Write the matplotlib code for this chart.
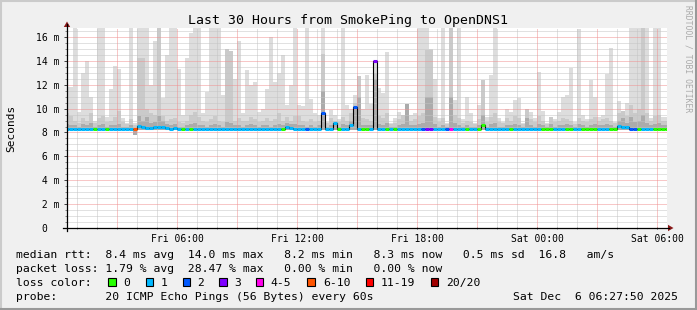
import matplotlib
matplotlib.use('Agg')
import matplotlib.pyplot as plt
from matplotlib.patches import Rectangle, Polygon
from matplotlib.lines import Line2D
import numpy as np

W, H = 697, 310

# ---------------- data ----------------
bin_hours = 0.2            # 12-minute consolidation
first_bin_start = 0.4      # hours after Fri 00:00

smoke_top = [
    11.8, 11.8, 16.8, 9.7, 13.0, 14.0, 11.0, 9.0, 16.8, 16.8,
    9.3, 11.6, 13.6, 13.3, 9.2, 8.8, 16.8, 8.8, 16.8, 16.8,
    16.8, 12.0, 15.7, 16.8, 10.9, 14.5, 16.8, 16.8, 13.3, 9.5,
    14.2, 16.3, 16.8, 16.8, 9.6, 11.4, 16.8, 16.8, 16.8, 11.1,
    15.0, 14.8, 12.5, 15.7, 9.6, 13.2, 12.0, 12.2, 9.75, 10.0,
    11.6, 16.0, 12.2, 13.0, 14.5, 10.3, 12.0, 16.8, 10.3, 10.2,
    16.8, 10.8, 9.6, 9.5, 16.8, 8.9, 9.9, 9.5, 9.1, 16.8,
    10.3, 10.0, 11.1, 12.7, 10.0, 12.8, 10.4, 14.0, 11.7, 11.3,
    14.7, 8.8, 9.2, 9.75, 9.5, 10.4, 9.5, 9.6, 16.8, 16.8,
    16.8, 15.0, 12.5, 9.2, 16.8, 8.8, 16.8, 10.7, 16.8, 9.1,
    11.0, 9.6, 8.8, 10.3, 12.4, 9.3, 12.8, 16.8, 9.2, 8.9,
    10.0, 9.75, 10.7, 10.9, 8.8, 10.0, 9.7, 9.2, 13.1, 9.8,
    8.8, 9.3, 9.1, 9.7, 11.0, 11.1, 13.4, 8.85, 16.7, 9.5,
    9.1, 12.4, 11.0, 9.3, 9.5, 12.9, 15.1, 8.85, 10.6, 9.8,
    10.5, 16.8, 16.8, 16.8, 16.8, 16.8, 9.2, 16.8, 16.8, 9.3, 9.3,
]

smoke_mid = [
    9.6, 9.4, 9.0, 8.8, 9.2, 9.0, 9.6, 8.8, 9.2, 9.4,
    8.9, 9.0, 9.3, 9.8, 8.9, 8.7, 9.1, 8.6, 14.2, 14.2,
    10.0, 9.6, 9.5, 16.8, 9.4, 9.0, 9.1, 9.2, 8.9, 8.8,
    9.0, 9.5, 9.7, 9.3, 9.0, 8.9, 9.1, 9.4, 9.0, 8.9,
    15.0, 14.8, 9.0, 9.2, 9.0, 9.0, 9.3, 9.1, 8.9, 9.0,
    9.2, 9.0, 9.1, 9.6, 9.0, 9.3, 9.0, 9.4, 9.4, 9.0,
    8.9, 9.1, 8.9, 9.0, 14.6, 8.8, 9.2, 9.0, 8.9, 9.3,
    9.0, 9.6, 10.5, 12.7, 9.2, 9.1, 9.0, 13.0, 9.4, 9.2,
    9.6, 8.7, 8.8, 9.1, 9.5, 10.4, 9.0, 9.1, 9.4, 9.6,
    14.9, 14.9, 9.3, 8.9, 9.2, 8.7, 16.8, 9.5, 9.2, 8.8,
    9.0, 8.9, 8.7, 9.1, 12.4, 8.9, 9.3, 9.6, 8.9, 8.8,
    9.2, 9.0, 9.4, 9.2, 8.7, 10.0, 9.1, 8.9, 9.4, 9.0,
    8.7, 9.3, 8.9, 9.0, 9.2, 9.1, 9.0, 8.7, 9.2, 9.0,
    8.9, 9.1, 9.3, 9.0, 9.1, 9.2, 9.0, 8.8, 9.6, 9.8,
    9.4, 10.3, 9.6, 10.0, 16.8, 9.6, 9.0, 9.4, 9.5, 9.0, 9.0,
]

smoke_inner = [
    8.7, 8.6, 8.6, 8.5, 8.7, 8.6, 8.8, 8.5, 8.6, 8.7,
    8.5, 8.6, 8.6, 8.7, 8.5, 8.5, 8.6, 8.4, 9.4, 9.0,
    9.3, 8.8, 8.9, 9.4, 9.0, 8.7, 8.6, 8.7, 8.5, 8.5,
    8.6, 8.7, 8.8, 8.6, 8.6, 8.5, 8.6, 8.7, 8.6, 8.5,
    8.9, 8.8, 8.6, 8.6, 8.5, 8.6, 8.7, 8.6, 8.5, 8.6,
    8.6, 8.5, 8.6, 8.7, 8.6, 8.8, 8.7, 8.7, 8.6, 8.6,
    8.5, 8.6, 8.5, 8.6, 11.5, 8.5, 8.6, 8.6, 8.5, 8.7,
    8.6, 9.0, 10.0, 11.0, 8.6, 8.6, 8.6, 12.5, 8.7, 8.6,
    8.8, 8.5, 8.5, 8.6, 8.7, 10.4, 8.6, 8.6, 8.7, 8.8,
    11.0, 11.0, 8.7, 8.5, 8.6, 8.5, 11.0, 8.8, 8.6, 8.5,
    8.6, 8.5, 8.5, 8.6, 9.5, 8.5, 8.7, 8.8, 8.5, 8.5,
    8.6, 8.6, 8.7, 8.6, 8.5, 9.2, 8.6, 8.5, 8.7, 8.6,
    8.5, 8.7, 8.5, 8.6, 8.6, 8.7, 8.6, 8.5, 8.7, 8.6,
    8.5, 8.6, 8.7, 8.6, 8.6, 8.7, 8.6, 8.5, 9.0, 9.2,
    8.8, 9.3, 8.9, 9.0, 9.5, 8.8, 8.6, 8.7, 8.8, 8.6, 8.6,
]

smoke_min = [
    8.2, 8.2, 8.2, 8.2, 8.2, 8.2, 8.2, 8.2, 8.2, 8.2,
    8.2, 8.2, 8.2, 8.2, 8.2, 8.2, 8.2, 7.75, 8.2, 8.2,
    8.2, 8.2, 8.2, 8.2, 8.2, 8.2, 8.2, 8.2, 8.2, 8.2,
    8.2, 8.2, 8.2, 8.2, 8.2, 8.2, 8.2, 8.2, 8.2, 8.2,
    8.2, 8.2, 8.2, 8.2, 8.2, 8.2, 8.2, 8.2, 8.2, 8.2,
    8.2, 8.2, 8.2, 8.2, 8.2, 8.2, 8.2, 8.2, 8.2, 8.2,
    8.2, 8.2, 8.2, 8.2, 8.2, 8.2, 8.2, 8.2, 8.2, 8.2,
    8.2, 8.2, 8.2, 8.2, 8.2, 8.2, 8.2, 8.2, 8.2, 8.2,
    8.2, 8.2, 8.2, 8.2, 8.2, 8.2, 8.2, 8.2, 8.2, 8.2,
    8.2, 8.2, 8.2, 8.2, 8.2, 8.2, 8.2, 8.2, 8.2, 8.2,
    8.2, 8.2, 8.2, 8.2, 8.2, 8.2, 8.2, 8.2, 8.2, 8.2,
    8.2, 8.2, 8.2, 8.2, 8.2, 8.2, 8.2, 8.2, 8.2, 8.2,
    8.2, 8.2, 8.2, 8.2, 8.2, 8.2, 8.2, 8.2, 8.2, 8.2,
    8.2, 8.2, 8.2, 8.2, 8.2, 8.2, 8.2, 8.2, 8.2, 8.2,
    8.2, 8.2, 8.2, 8.2, 8.2, 8.2, 8.2, 8.2, 8.2, 8.2, 8.2,
]

median_ms = [
    8.3, 8.3, 8.3, 8.3, 8.3, 8.3, 8.3, 8.3, 8.3, 8.3,
    8.3, 8.3, 8.3, 8.3, 8.3, 8.3, 8.3, 8.3, 8.55, 8.45,
    8.35, 8.4, 8.45, 8.5, 8.45, 8.4, 8.3, 8.4, 8.3, 8.3,
    8.3, 8.3, 8.3, 8.3, 8.3, 8.3, 8.3, 8.3, 8.3, 8.3,
    8.3, 8.3, 8.3, 8.3, 8.3, 8.3, 8.3, 8.3, 8.3, 8.3,
    8.3, 8.3, 8.3, 8.3, 8.3, 8.45, 8.4, 8.3, 8.3, 8.3,
    8.3, 8.3, 8.3, 8.3, 9.6, 8.3, 8.3, 8.8, 8.3, 8.3,
    8.3, 8.6, 10.1, 8.3, 8.3, 8.3, 8.3, 14.0, 8.3, 8.3,
    8.3, 8.3, 8.3, 8.3, 8.3, 8.3, 8.3, 8.3, 8.3, 8.3,
    8.3, 8.3, 8.3, 8.3, 8.3, 8.3, 8.3, 8.3, 8.3, 8.3,
    8.3, 8.3, 8.3, 8.3, 8.65, 8.3, 8.3, 8.3, 8.3, 8.3,
    8.3, 8.3, 8.3, 8.3, 8.3, 8.3, 8.3, 8.3, 8.3, 8.3,
    8.3, 8.3, 8.3, 8.3, 8.3, 8.3, 8.3, 8.3, 8.3, 8.3,
    8.3, 8.3, 8.3, 8.3, 8.3, 8.3, 8.3, 8.3, 8.55, 8.5,
    8.45, 8.3, 8.3, 8.3, 8.3, 8.3, 8.3, 8.3, 8.3, 8.3, 8.3,
]

loss_count = [
    1, 1, 1, 1, 1, 1, 1, 0, 1, 1,
    0, 1, 1, 1, 1, 1, 1, 8, 1, 1,
    1, 1, 1, 1, 1, 1, 1, 1, 1, 0,
    1, 0, 1, 1, 1, 1, 1, 1, 1, 1,
    1, 1, 1, 1, 1, 1, 1, 1, 1, 1,
    1, 1, 1, 1, 0, 1, 1, 1, 1, 1,
    2, 1, 1, 1, 2, 1, 1, 1, 0, 1,
    1, 1, 2, 1, 0, 0, 1, 3, 1, 1,
    0, 1, 0, 1, 1, 1, 1, 1, 1, 2,
    3, 3, 1, 1, 1, 2, 4, 1, 1, 1,
    0, 1, 1, 0, 0, 1, 1, 1, 1, 1,
    1, 0, 1, 1, 1, 1, 1, 1, 1, 0,
    0, 0, 1, 1, 1, 0, 0, 1, 1, 0,
    0, 0, 0, 1, 1, 1, 0, 0, 1, 1,
    1, 2, 2, 0, 1, 1, 1, 0, 0, 0, 0,
]

y_ticks = [0, 2, 4, 6, 8, 10, 12, 14, 16]
y_tick_labels = ['0  ', ' 2 m', ' 4 m', ' 6 m', ' 8 m', '10 m', '12 m', '14 m', '16 m']
x_tick_hours = [6, 12, 18, 24, 30]
x_tick_labels = ['Fri 06:00', 'Fri 12:00', 'Fri 18:00', 'Sat 00:00', 'Sat 06:00']

loss_labels = ['0', '1', '2', '3', '4-5', '6-10', '11-19', '20/20']
loss_upper = [0, 1, 2, 3, 5, 10, 19, 20]
loss_colors = ['#26ff00', '#00b8ff', '#0059ff', '#7e00ff', '#ff00ea', '#ff5500', '#ff0000', '#a10000']

title = 'Last 30 Hours from SmokePing to OpenDNS1'
rtt_line = 'median rtt:  8.4 ms avg  14.0 ms max   8.2 ms min   8.3 ms now   0.5 ms sd  16.8   am/s'
loss_line = 'packet loss: 1.79 % avg  28.47 % max   0.00 % min   0.00 % now'
probe_line = 'probe:       20 ICMP Echo Pings (56 Bytes) every 60s'
stamp_text = 'Sat Dec  6 06:27:50 2025'

# ---------------- figure ----------------
MONO = 'DejaVu Sans Mono'
plt.rcParams['font.family'] = MONO

fig = plt.figure(figsize=(W / 100, H / 100), dpi=100, facecolor='#F0F0F0')


def fx(px):
    return px / W


def fy(py):
    return 1 - py / H


left, right, top, bottom = 67, 667, 28, 228
ax = fig.add_axes([fx(left), fy(bottom), (right - left) / W, (bottom - top) / H])
ax.set_facecolor('white')
ax.set_xlim(0.5, 30.5)
ax.set_ylim(0, 16.75)
for s in ax.spines.values():
    s.set_visible(False)

n = len(smoke_top)
t = first_bin_start + bin_hours * np.arange(n)
top_a = np.array(smoke_top)
mid_a = np.array(smoke_mid)
inn_a = np.array(smoke_inner)
min_a = np.array(smoke_min)
med_a = np.array(median_ms)

ax.bar(t, top_a - min_a, bottom=min_a, width=bin_hours, align='edge', color='#DDDDDD', lw=0, zorder=1)
ax.bar(t, mid_a - min_a, bottom=min_a, width=bin_hours, align='edge', color='#CACACA', lw=0, zorder=1.1)
ax.bar(t, inn_a - min_a, bottom=min_a, width=bin_hours, align='edge', color='#ABABAB', lw=0, zorder=1.2)

# grid (drawn over smoke), dotted
dot = (0, (1, 1))
for h in range(1, 31):
    if h % 3 != 0:
        ax.axvline(h, color='#C4C4C4', lw=0.72, ls=dot, zorder=2)
for h in range(3, 31, 3):
    ax.axvline(h, color='#F09090', lw=0.72, ls=dot, zorder=2.1)
for v in np.arange(0.5, 16.6, 0.5):
    if abs(v % 2) > 1e-6:
        ax.axhline(v, color='#C4C4C4', lw=0.72, ls=dot, zorder=2)
for v in y_ticks[1:]:
    ax.axhline(v, color='#F09090', lw=0.72, ls=dot, zorder=2.1)

# median: black step line + loss coloured segments
edges = np.append(t, t[-1] + bin_hours)
ax.stairs(med_a, edges, baseline=None, color='black', lw=0.8, zorder=3)


def loss_color(c):
    for up, col in zip(loss_upper, loss_colors):
        if c <= up:
            return col
    return loss_colors[-1]


seg_cols = [loss_color(c) for c in loss_count]
ax.hlines(med_a, t, t + bin_hours, colors=seg_cols, lw=2.2, zorder=4)

# ticks
ax.set_yticks(y_ticks)
ax.set_yticklabels(y_tick_labels, fontsize=7, family=MONO)
ax.set_yticks(np.arange(0, 16.6, 0.5), minor=True)
ax.tick_params(axis='y', which='major', length=2.5, width=0.72, direction='out', pad=2.8, color='#444444')
ax.tick_params(axis='y', which='minor', length=1.5, width=0.72, direction='out', color='#888888')
ax.set_xticks(x_tick_hours)
ax.set_xticklabels(x_tick_labels, fontsize=7, family=MONO)
ax.set_xticks(np.arange(1, 31, 1), minor=True)
ax.tick_params(axis='x', which='major', length=2, width=0.72, direction='inout', pad=3.2, color='#444444')
ax.tick_params(axis='x', which='minor', length=1.5, width=0.72, direction='inout', color='#888888')

# axis lines with arrows
fig.add_artist(Line2D([fx(63), fx(669)], [fy(bottom), fy(bottom)], color='black', lw=0.9, transform=fig.transFigure))
fig.add_artist(Line2D([fx(left), fx(left)], [fy(231), fy(24)], color='black', lw=0.9, transform=fig.transFigure))
arrow_c = '#8B1A1A'
fig.add_artist(Polygon([[fx(668), fy(224.8)], [fx(668), fy(231.2)], [fx(673.5), fy(228)]],
                       closed=True, color=arrow_c, transform=fig.transFigure, lw=0))
fig.add_artist(Polygon([[fx(63.8), fy(27)], [fx(70.2), fy(27)], [fx(67), fy(21.5)]],
                       closed=True, color=arrow_c, transform=fig.transFigure, lw=0))

# title, y label, watermark
fig.text(fx(348), fy(24), title, ha='center', va='baseline', fontsize=9.5, family=MONO, color='black')
fig.text(fx(11), fy(128), 'Seconds', ha='center', va='center', rotation=90, fontsize=8, family=MONO)
fig.text(fx(688), fy(5), 'RRDTOOL / TOBI OETIKER', ha='center', va='top', rotation=270,
         fontsize=5.8, family=MONO, color='#AAAAAA')

# legend lines (monospace, 6.87 px per character)
FS = 8.22
y1, y2, y3, y4 = 258.4, 272.4, 286.2, 300.0
fig.text(fx(16), fy(y1), rtt_line, fontsize=FS, va='baseline')
fig.text(fx(16), fy(y2), loss_line, fontsize=FS, va='baseline')
fig.text(fx(16), fy(y3), 'loss color:', fontsize=FS, va='baseline')
box_x = [108.3, 145.7, 182.7, 219.3, 256.0, 307.3, 365.7, 430.7]
lab_x = [123.3, 160.7, 197.3, 234.3, 270.7, 323.3, 380.7, 445.7]
for lab, col, bx, lx in zip(loss_labels, loss_colors, box_x, lab_x):
    fig.add_artist(Rectangle((fx(bx), fy(285.7)), 7.4 / W, 8 / H, facecolor=col, edgecolor='black',
                             lw=0.8, transform=fig.transFigure))
    fig.text(fx(lx), fy(y3), lab, fontsize=FS, va='baseline')
fig.text(fx(16), fy(y4), probe_line, fontsize=FS, va='baseline')
fig.text(fx(513.3), fy(y4), stamp_text, fontsize=FS, va='baseline')

# 3D frame
fig.add_artist(Line2D([0, 1], [fy(0.5), fy(0.5)], color='#CBCBCB', lw=1.5, transform=fig.transFigure))
fig.add_artist(Line2D([fx(0.5), fx(0.5)], [0, 1], color='#CBCBCB', lw=1.5, transform=fig.transFigure))
fig.add_artist(Line2D([0, 1], [fy(309), fy(309)], color='#999999', lw=1.5, transform=fig.transFigure))
fig.add_artist(Line2D([fx(696), fx(696)], [0, 1], color='#999999', lw=1.5, transform=fig.transFigure))

fig.savefig('out.png', dpi=100, facecolor=fig.get_facecolor())
